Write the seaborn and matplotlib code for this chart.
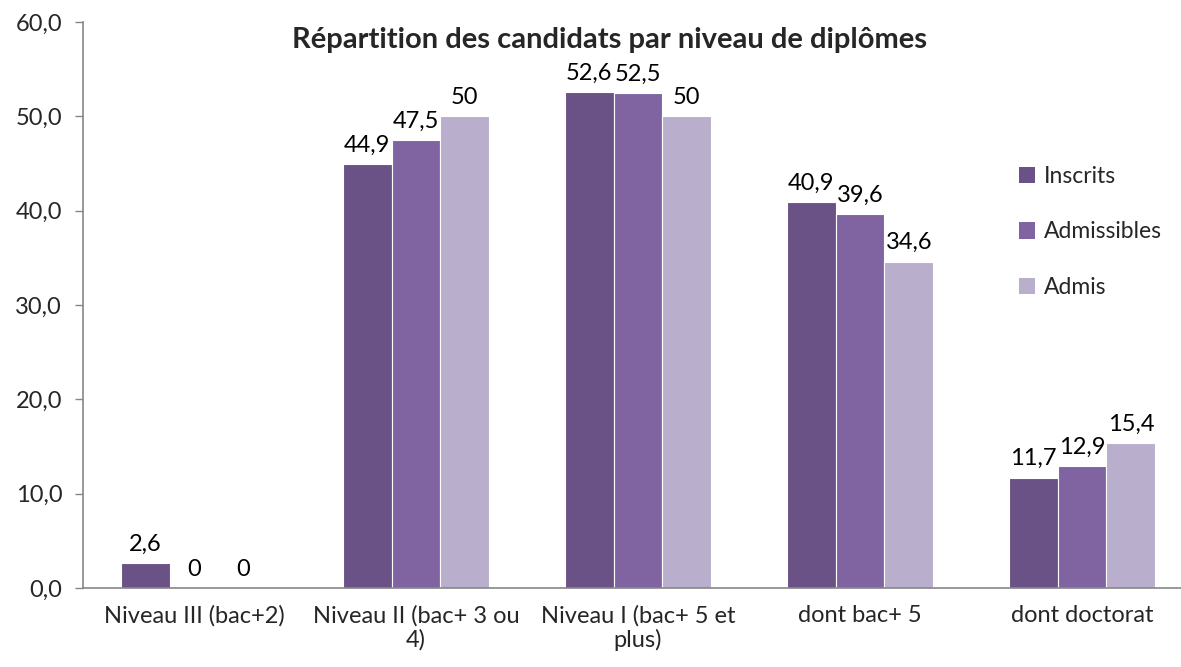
import matplotlib
matplotlib.use("Agg")
import matplotlib.pyplot as plt
import seaborn as sns
import pandas as pd
from matplotlib.patches import Patch

# Data
categories = ["Niveau III (bac+2)", "Niveau II (bac+ 3 ou\n4)", "Niveau I (bac+ 5 et\nplus)",
              "dont bac+ 5", "dont doctorat"]
series = ["Inscrits", "Admissibles", "Admis"]
inscrits = [2.6, 44.9, 52.6, 40.9, 11.7]
admissibles = [0, 47.5, 52.5, 39.6, 12.9]
admis = [0, 50, 50, 34.6, 15.4]
value_labels = {
    "Inscrits": ["2,6", "44,9", "52,6", "40,9", "11,7"],
    "Admissibles": ["0", "47,5", "52,5", "39,6", "12,9"],
    "Admis": ["0", "50", "50", "34,6", "15,4"],
}
colors = ["#6A5186", "#8064A2", "#B9AFCC"]

df = pd.DataFrame({
    "categorie": categories * 3,
    "serie": [s for s in series for _ in categories],
    "valeur": inscrits + admissibles + admis,
})

sns.set_theme(style="white")
plt.rcParams["font.family"] = ["Lato", "DejaVu Sans"]
fs = 17

fig = plt.figure(figsize=(11.81, 6.67), dpi=100)
ax = fig.add_axes([83 / 1181, 79 / 667, 5 * 222 / 1181, 566 / 667])

sns.barplot(data=df, x="categorie", y="valeur", hue="serie", hue_order=series,
            order=categories, palette=colors, width=0.66, saturation=1,
            edgecolor="white", linewidth=0.8, ax=ax, legend=False)

for cont, s in zip(ax.containers, series):
    ax.bar_label(cont, labels=value_labels[s], padding=6, fontsize=fs, color="black")

ax.set_ylim(0, 60)
ax.set_xlim(-0.5, 4.5)
ax.set_yticks(range(0, 61, 10))
ax.set_yticklabels([f"{v},0" for v in range(0, 61, 10)], fontsize=fs)
ax.set_xticklabels(categories, fontsize=fs, linespacing=1.15)
ax.set_xlabel("")
ax.set_ylabel("")

# category boundary ticks on x axis
ax.set_xticks([i + 0.5 for i in range(-1, 5)], minor=True)
ax.tick_params(axis="x", which="major", length=0, pad=12)
ax.tick_params(axis="x", which="minor", length=6, color="#868686", width=1, direction="out")
ax.tick_params(axis="y", length=6, color="#868686", width=1, direction="out", left=True, pad=9)

for side in ["top", "right"]:
    ax.spines[side].set_visible(False)
for side in ["left", "bottom"]:
    ax.spines[side].set_color("#868686")
    ax.spines[side].set_linewidth(1.2)

fig.text(610 / 1181, 1 - 40 / 667, "Répartition des candidats par niveau de diplômes",
         ha="center", va="center", fontsize=21, fontweight="bold")

handles = [Patch(facecolor=c, edgecolor="none") for c in colors]
fig.legend(handles, series, loc="center left", bbox_to_anchor=(998 / 1181, 1 - 232 / 667),
           frameon=False, fontsize=16.5, handlelength=0.7, handleheight=0.7,
           handletextpad=0.4, labelspacing=1.5)

fig.savefig("out.png", dpi=100)
